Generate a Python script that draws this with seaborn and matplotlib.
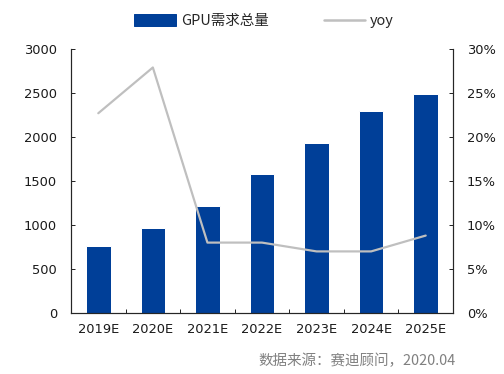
import matplotlib
matplotlib.use("Agg")
import matplotlib.pyplot as plt
import seaborn as sns
import pandas as pd
from matplotlib.ticker import FuncFormatter, FixedLocator
from matplotlib.lines import Line2D
from matplotlib.patches import Patch

sns.set_theme(style="white")
plt.rcParams['font.family'] = ['DejaVu Sans', 'Noto Sans CJK SC']

years = ["2019E", "2020E", "2021E", "2022E", "2023E", "2024E", "2025E"]
demand = [760, 965, 1215, 1580, 1930, 2295, 2490]
yoy = [22.7, 27.9, 8.0, 8.0, 7.0, 7.0, 8.8]

df = pd.DataFrame({"year": years, "demand": demand, "yoy": yoy})

fig = plt.figure(figsize=(7, 374/72), dpi=72)
ax = fig.add_axes([71/504, 1-313/374, (453-71)/504, (313-49)/374])
bar_color = "#003F98"
line_color = "#BFBFBF"

sns.barplot(data=df, x="year", y="demand", color=bar_color, width=0.45,
            saturation=1, ax=ax)
ax.set_ylim(0, 3000)
ax.set_yticks(range(0, 3001, 500))
ax.set_xlabel("")
ax.set_ylabel("")
ax.set_xlim(-0.5, len(years) - 0.5)

ax2 = ax.twinx()
sns.lineplot(x=list(range(len(years))), y=df["yoy"], color=line_color,
             linewidth=2.2, ax=ax2)
ax2.set_ylim(0, 30)
ax2.set_yticks(range(0, 31, 5))
ax2.yaxis.set_major_formatter(FuncFormatter(lambda v, p: f"{int(v)}%"))
ax2.set_ylabel("")

for a in (ax, ax2):
    for s in a.spines.values():
        s.set_visible(False)
    a.grid(False)
ax.spines["left"].set_visible(True)
ax.spines["bottom"].set_visible(True)
ax2.spines["right"].set_visible(True)
for s in (ax.spines["left"], ax.spines["bottom"], ax2.spines["right"]):
    s.set_color("#262626")
    s.set_linewidth(1.2)

ax.tick_params(axis="y", direction="in", length=4, width=1, color="#262626",
               labelsize=13, labelcolor="#1a1a1a", pad=14, left=True)
ax2.tick_params(axis="y", direction="in", length=4, width=1, color="#262626",
                labelsize=13, labelcolor="#1a1a1a", pad=14, right=True)
ax.xaxis.set_minor_locator(FixedLocator([i + 0.5 for i in range(len(years) - 1)]))
ax.tick_params(axis="x", which="major", length=0, labelsize=13,
               labelcolor="#1a1a1a", pad=10)
ax.tick_params(axis="x", which="minor", direction="in", length=4, width=1,
               color="#262626", bottom=True)

handles = [Patch(facecolor=bar_color, edgecolor=bar_color),
           Line2D([0], [0], color=line_color, linewidth=2.5)]
fig.legend(handles, ["GPU需求总量", "yoy"], loc="center",
           bbox_to_anchor=(264/504, 1 - 21/374), ncol=2, frameon=False,
           handlelength=2.85, handleheight=0.8,
           columnspacing=3.8, handletextpad=0.35,
           prop={"family": ["Noto Sans CJK SC", "DejaVu Sans"], "size": 14.5})

fig.text(258/504, 1 - 361/374, "数据来源：赛迪顾问，2020.04", fontsize=14.5,
         color="#808080", va="center", ha="left",
         family=["Noto Sans CJK SC", "DejaVu Sans"])

fig.savefig("out.png", dpi=72)
